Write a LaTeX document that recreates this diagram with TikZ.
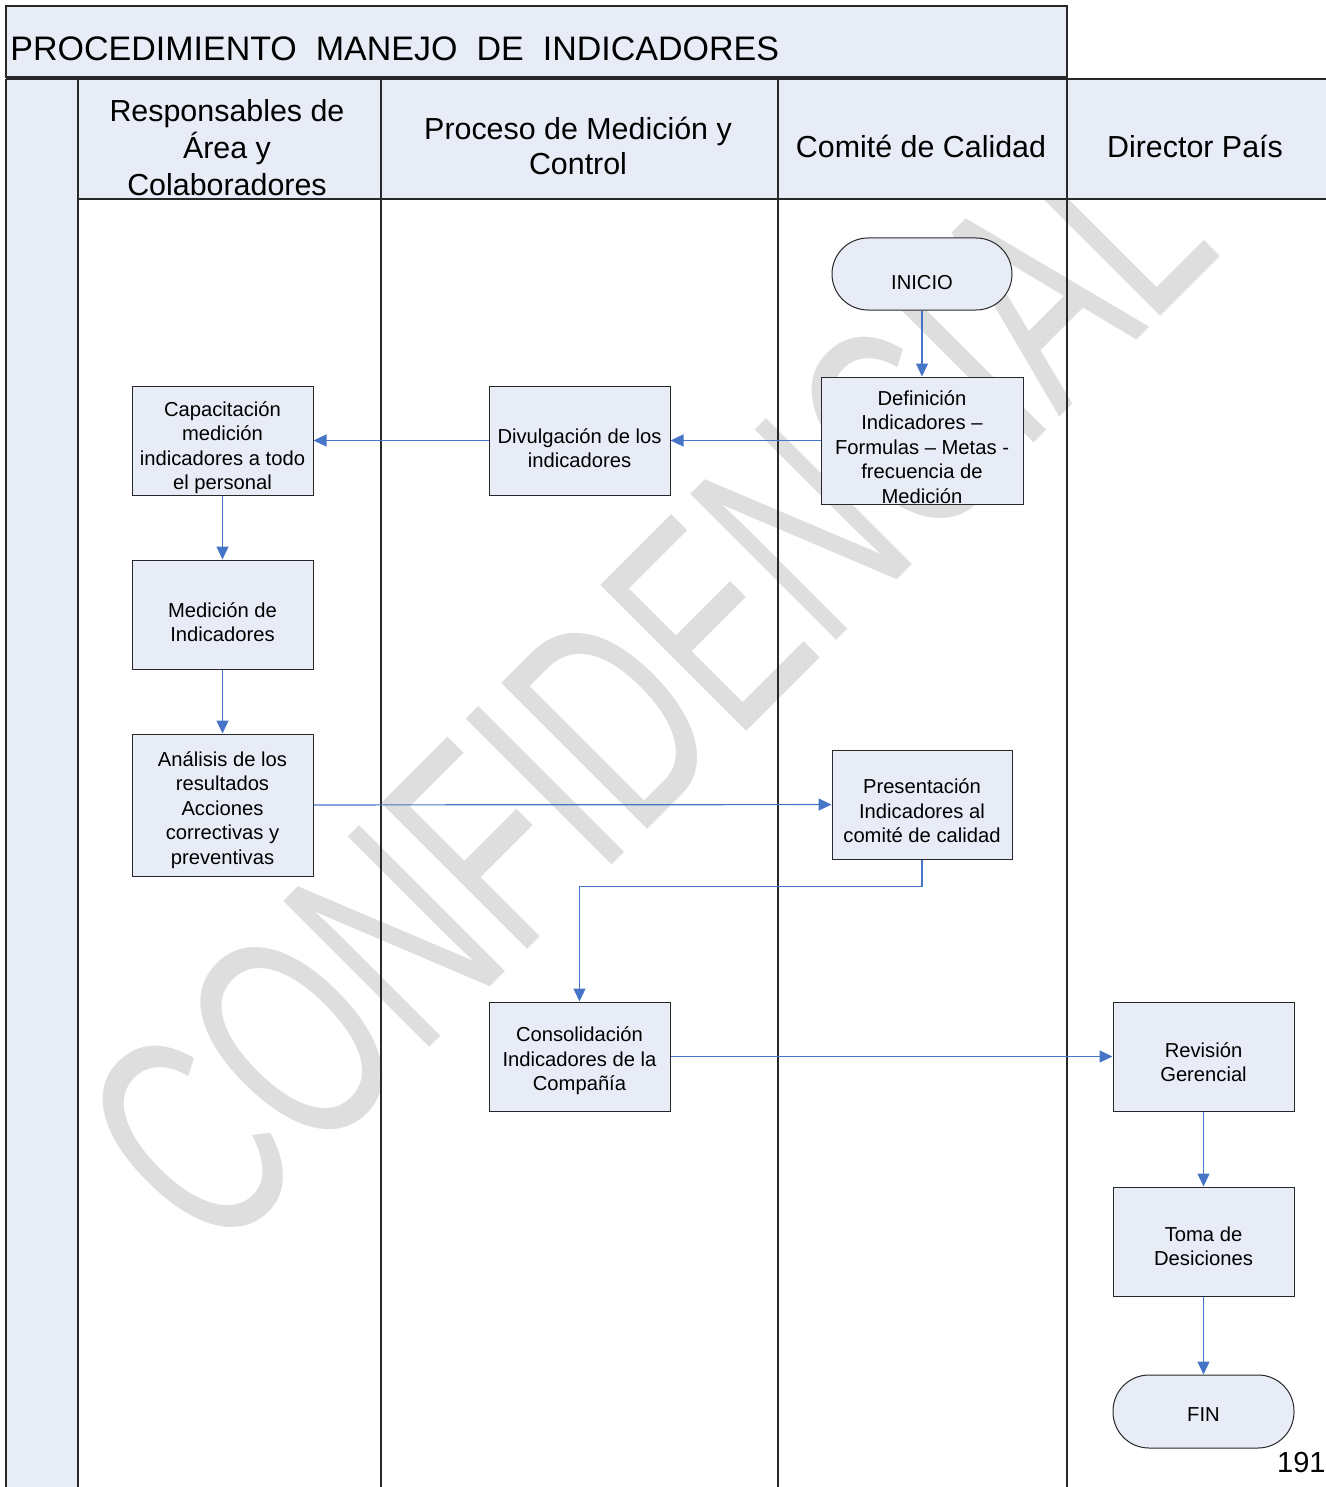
\documentclass[tikz,border=0pt]{standalone}
\usepackage{fontspec}
\setmainfont{Liberation Sans}
\usetikzlibrary{arrows.meta}
\definecolor{lanefill}{RGB}{232,236,247}
\definecolor{flow}{RGB}{70,116,198}
\definecolor{wmark}{RGB}{222,222,222}
\definecolor{frame}{RGB}{40,40,40}

\begin{document}
\begin{tikzpicture}[x=0.5pt,y=-0.5pt,
  lanerule/.style={draw=frame, line width=0.9pt},
  procbox/.style={draw=frame, line width=0.5pt, fill=lanefill, inner sep=0pt,
    minimum width=90.5pt, minimum height=54.5pt},
  terminal/.style={procbox, rounded corners=18pt, minimum width=90pt, minimum height=36pt},
  boxtext/.style={align=center, inner sep=0pt, font=\fontsize{10.1}{12.2}\selectfont},
  lanehead/.style={align=center, inner sep=0pt, font=\fontsize{15.2}{17.5}\selectfont},
  flowline/.style={draw=flow, line width=0.6pt, -{Triangle[length=6.5pt,width=6pt]}}]

\useasboundingbox (0,0) rectangle (1326,1487);

% watermark behind the lane bodies
\begin{scope}
  \clip (78,199) rectangle (1326,1487);
  \node[text=wmark, rotate=45, xscale=0.64, inner sep=0pt,
        font=\fontsize{150}{150}\selectfont] (wm) at (647,684) {CONFIDENCIAL};
\end{scope}

% title bar
\draw[lanerule, fill=lanefill] (6,6) rectangle (1067,77);
\node[anchor=base west, inner sep=0pt, font=\fontsize{17}{20}\selectfont] (title) at (10,61)
  {\spaceskip=9.5pt\relax PROCEDIMIENTO MANEJO DE INDICADORES};

% pool: left strip, lane header row and lane dividers
\fill[lanefill] (6,79) rectangle (78,1490);
\fill[lanefill] (78,79) rectangle (1326,199);
\draw[lanerule] (6,79) -- (1326,79);
\draw[lanerule] (6,79) -- (6,1490);
\draw[lanerule] (78,79) -- (78,1490);
\draw[lanerule] (78,199) -- (1326,199);
\foreach \lx in {381,778,1067} \draw[lanerule] (\lx,79) -- (\lx,1490);

% lane titles
\node[lanehead, font=\fontsize{15.2}{18.5}\selectfont] (h1) at (227,148) {Responsables de\\Área y\\Colaboradores};
\node[lanehead] (h2) at (578,146) {Proceso de Medición y\\Control};
\node[lanehead, anchor=base] (h3) at (921,158) {Comité de Calidad};
\node[lanehead, anchor=base] (h4) at (1195,158) {Director País};

% process shapes
\node[terminal] (ini) at (922,274) {};
\node[procbox, minimum width=101pt, minimum height=63.5pt] (def) at (922,440.5) {};
\node[procbox] (div) at (579.5,440.5) {};
\node[procbox] (cap) at (222.5,440.5) {};
\node[procbox] (med) at (222.5,614.5) {};
\node[procbox, minimum height=71pt] (ana) at (222.5,805) {};
\node[procbox, minimum width=90pt] (pre) at (922,804.5) {};
\node[procbox] (con) at (579.5,1056.5) {};
\node[procbox] (rev) at (1203.5,1056.5) {};
\node[procbox] (tom) at (1203.5,1241.5) {};
\node[terminal, minimum width=90.5pt, minimum height=36.5pt] (fin) at (1203.5,1411.5) {};

% shape captions
\node[boxtext] (ini-t) at (922,283) {INICIO};
\node[boxtext] (def-t) at (922,447) {Definición\\Indicadores --\\Formulas -- Metas -\\frecuencia de\\Medición};
\node[boxtext] (div-t) at (579.5,448) {Divulgación de los\\indicadores};
\node[boxtext] (cap-t) at (222.5,447.5) {Capacitación\\medición\\indicadores a todo\\el personal};
\node[boxtext] (med-t) at (222.5,622) {Medición de\\Indicadores};
\node[boxtext] (ana-t) at (222.5,810) {Análisis de los\\resultados\\Acciones\\correctivas y\\preventivas};
\node[boxtext] (pre-t) at (922,811) {Presentación\\Indicadores al\\comité de calidad};
\node[boxtext] (con-t) at (579.5,1061) {Consolidación\\Indicadores de la\\Compañía};
\node[boxtext] (rev-t) at (1203.5,1062) {Revisión\\Gerencial};
\node[boxtext] (tom-t) at (1203.5,1246.5) {Toma de\\Desiciones};
\node[boxtext] (fin-t) at (1203.5,1415) {FIN};

% flow connectors
\draw[flowline] (ini) -- (def);
\draw[flowline] (def) -- (div);
\draw[flowline] (div) -- (cap);
\draw[flowline] (cap) -- (med);
\draw[flowline] (med) -- (ana);
\draw[flowline] (ana) -- (pre);
\draw[flowline] (pre.south) -- ++(0,27) -| (con.north);
\draw[flowline] (con) -- (rev);
\draw[flowline] (rev) -- (tom);
\draw[flowline] (tom) -- (fin);

% page number
\node[anchor=base east, inner sep=0pt, font=\fontsize{14.5}{17}\selectfont] (pg) at (1326,1472) {191};

\end{tikzpicture}
\end{document}
